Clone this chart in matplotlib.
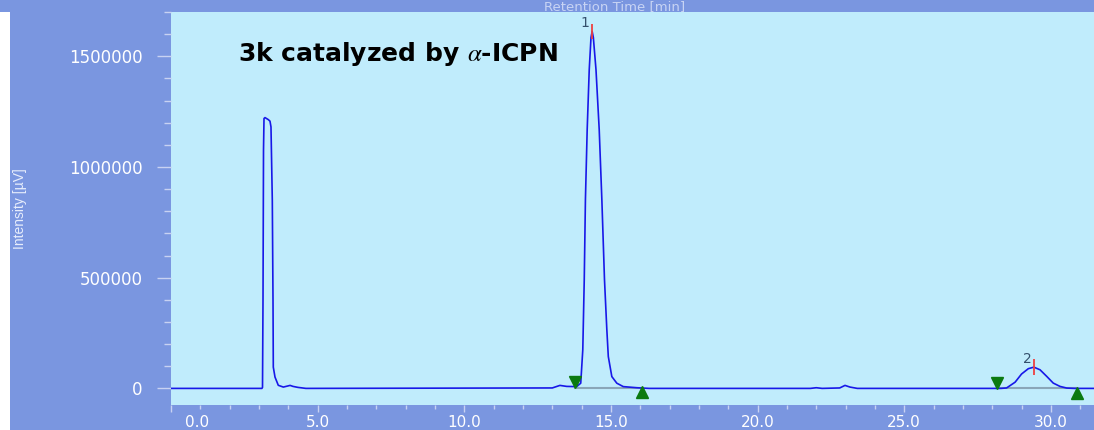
import matplotlib.pyplot as plt
from matplotlib.patches import Rectangle

# chromatogram trace (min, uV)
time_min = [0.0, 3.10, 3.12, 3.137, 3.154, 3.171, 3.205, 3.317, 3.375, 3.409,
            3.454, 3.478, 3.488, 3.546, 3.658, 3.83, 4.06, 4.16, 4.33, 4.6,
            13.0, 13.26, 13.49, 13.83, 13.97, 14.04, 14.09, 14.13, 14.19, 14.26,
            14.32, 14.36, 14.40, 14.49, 14.60, 14.69, 14.78, 14.86, 14.91, 15.03,
            15.20, 15.42, 15.88, 16.3, 21.8, 22.0, 22.2, 22.8, 22.98, 23.15,
            23.4, 28.3, 28.49, 28.78, 29.0, 29.23, 29.42, 29.63, 29.86, 30.08,
            30.31, 30.54, 30.8, 31.47]
intensity = [0, 0, 4500, 400000, 1076000, 1219000, 1223000, 1214000, 1207000, 1181000,
             850000, 397000, 96000, 51000, 14000, 6000, 13500, 9000, 4500, 0,
             2000, 13500, 9000, 8000, 23500, 174000, 491000, 853000, 1169000, 1440000,
             1585000, 1612000, 1585000, 1440000, 1169000, 853000, 491000, 265000, 144000, 53400,
             23500, 8100, 3000, 0, 0, 3000, 0, 2000, 13500, 6000,
             0, 0, 2000, 28000, 65000, 89000, 96000, 84000, 54000, 24000,
             9000, 1500, 0, 0]

# integrated peaks
peak_num = ['1', '2']
peak_rt = [14.36, 29.42]
peak_height = [1612000, 96000]
peak_start = [13.77, 28.17]
peak_start_y = [28000, 24000]
peak_end = [16.05, 30.88]
peak_end_y = [-18000, -19000]

xticks_major = [0, 5, 10, 15, 20, 25, 30]
yticks_major = [0, 500000, 1000000, 1500000]

bg = '#7A96E0'
plotbg = '#C0ECFC'
tickcol = '#c8d2f2'
plt.rcParams['mathtext.fontset'] = 'stix'

fig = plt.figure(figsize=(10.94, 4.30), dpi=100, facecolor=bg)
fig.patches.append(Rectangle((0, 0), 10 / 1094, 418 / 430, transform=fig.transFigure,
                             facecolor='white', edgecolor='none'))
ax = fig.add_axes([171 / 1094, 25 / 430, 923 / 1094, 393 / 430])
ax.set_facecolor(plotbg)
for s in ax.spines.values():
    s.set_visible(False)

ax.plot(time_min, intensity, color='#1818e8', lw=1.2, zorder=3)

# peak baselines and markers
for i in range(len(peak_rt)):
    ax.plot([peak_start[i], peak_end[i]], [0, 0], color='#8aa6b8', lw=1.5, zorder=2)
ax.plot(peak_start, peak_start_y, 'v', color='#0b7a10', ms=9, zorder=4)
ax.plot(peak_end, peak_end_y, '^', color='#0b7a10', ms=9, zorder=4)
ax.vlines(peak_rt, [h - 36000 for h in peak_height], [h + 36000 for h in peak_height],
          color='#ee4040', lw=1.3, zorder=4)
for n, rt, h in zip(peak_num, peak_rt, peak_height):
    ax.annotate(n, (rt, h), xytext=(-5, 6), textcoords='offset points',
                ha='center', va='center', fontsize=10, color='#34506c')

ax.text(2.29, 1479000, r'3k catalyzed by $\alpha$-ICPN', fontsize=18, fontweight='bold',
        family='DejaVu Sans', color='black', va='baseline', ha='left')

ax.set_xlim(0, 31.47)
ax.set_ylim(-75000, 1700000)
ax.set_xticks(xticks_major)
ax.set_xticks(range(0, 32), minor=True)
ax.set_xticklabels([''] + ['%.1f' % v for v in xticks_major[1:]])
ax.annotate('%.1f' % xticks_major[0], (0, 0), xycoords=('data', 'axes fraction'),
            xytext=(19, -12.5), textcoords='offset points', ha='center', va='center',
            fontsize=11, color='white')
ax.set_yticks(yticks_major)
ax.set_yticks(range(0, 1700001, 100000), minor=True)
ax.set_yticklabels(['%d' % v for v in yticks_major])
ax.tick_params(axis='x', which='major', length=5, width=1, color=tickcol, pad=2,
               labelsize=11, labelcolor='white')
ax.tick_params(axis='x', which='minor', length=3, width=1, color=tickcol)
ax.tick_params(axis='y', which='major', length=10, width=1, color=tickcol, pad=10.5,
               labelsize=12, labelcolor='white')
ax.tick_params(axis='y', which='minor', length=5, width=1, color=tickcol)

fig.text(20 / 1094, 1 - 209 / 430, 'Intensity [µV]', rotation=90, ha='center', va='center',
         fontsize=10, color='#e8eefc', family='Liberation Sans')
fig.text(615 / 1094, 1 - 10 / 430, 'Retention Time [min]', ha='center', va='baseline',
         fontsize=9.5, color='#c8d4f4')

fig.savefig('out.png', dpi=100, facecolor=fig.get_facecolor())
